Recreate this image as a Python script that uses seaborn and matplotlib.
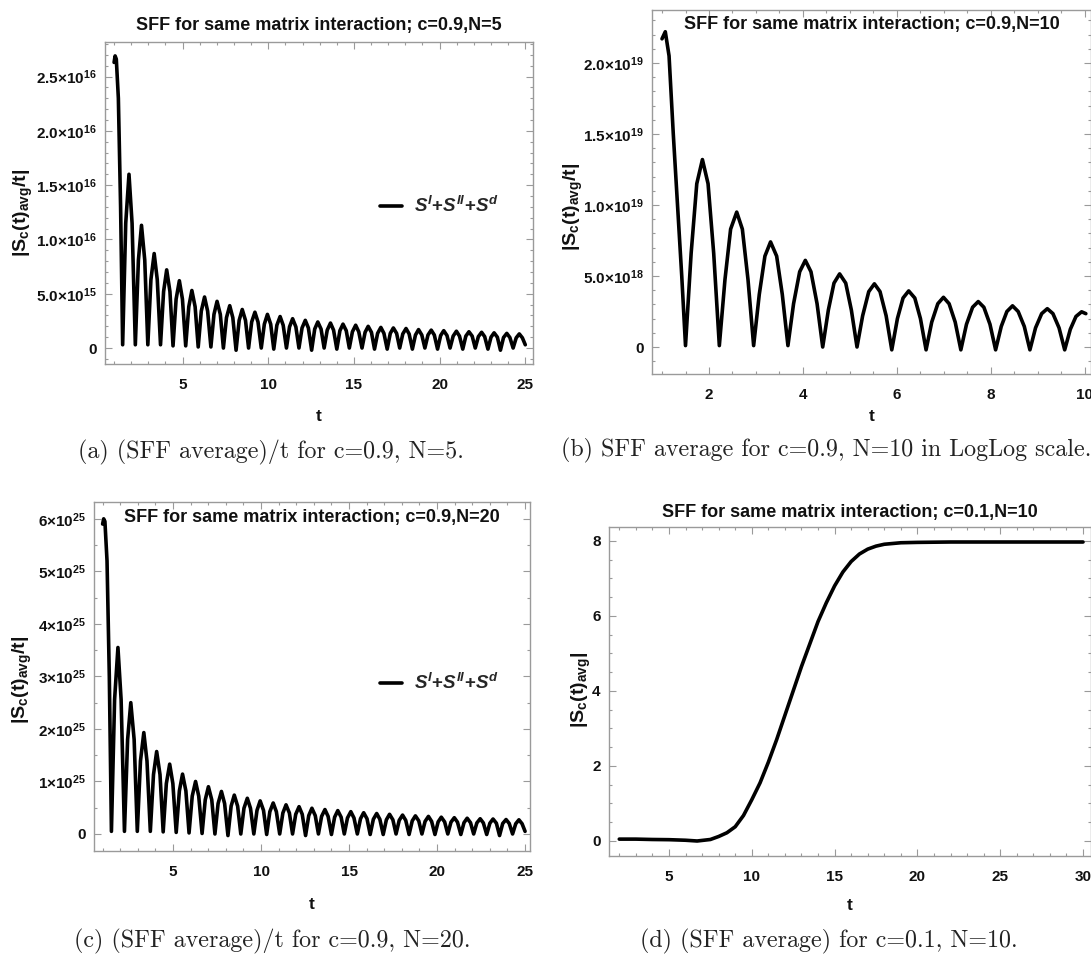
import matplotlib
matplotlib.use("Agg")
import matplotlib.pyplot as plt
from matplotlib import font_manager
from matplotlib.ticker import MultipleLocator, FixedLocator
import seaborn as sns
import pandas as pd

# ---------------- data ----------------
# (a) c=0.9, N=5 : (SFF average)/t, values in units of 1e16
a_t = [1.00, 1.06, 1.13, 1.25, 1.38,
       1.50, 1.68, 1.87, 2.05, 2.24, 2.42, 2.60, 2.79, 2.97, 3.15, 3.34, 3.52,
       3.71, 3.89, 4.07, 4.26, 4.44, 4.62, 4.81, 4.99, 5.18, 5.36, 5.54, 5.73,
       5.91, 6.09, 6.28, 6.46, 6.65, 6.83, 7.01, 7.20, 7.38, 7.56, 7.75, 7.93,
       8.12, 8.30, 8.48, 8.67, 8.85, 9.03, 9.22, 9.40, 9.59, 9.77, 9.95, 10.14,
       10.32, 10.50, 10.69, 10.87, 11.06, 11.24, 11.42, 11.61, 11.79, 11.97, 12.16, 12.34,
       12.53, 12.71, 12.89, 13.08, 13.26, 13.44, 13.63, 13.81, 14.00, 14.18, 14.36, 14.55,
       14.73, 14.91, 15.10, 15.28, 15.47, 15.65, 15.83, 16.02, 16.20, 16.38, 16.57, 16.75,
       16.94, 17.12, 17.30, 17.49, 17.67, 17.85, 18.04, 18.22, 18.41, 18.59, 18.77, 18.96,
       19.14, 19.32, 19.51, 19.69, 19.88, 20.06, 20.24, 20.43, 20.61, 20.79, 20.98, 21.16,
       21.35, 21.53, 21.71, 21.90, 22.08, 22.26, 22.45, 22.63, 22.82, 23.00, 23.18, 23.37,
       23.55, 23.73, 23.92, 24.10, 24.29, 24.47, 24.65, 24.83, 25.00]
a_s = [2.63, 2.69, 2.66, 2.30, 1.30,
       0.03, 1.15, 1.60, 1.15, 0.03, 0.81, 1.13, 0.81, 0.03, 0.63, 0.87, 0.63,
       0.03, 0.52, 0.72, 0.52, 0.02, 0.45, 0.62, 0.45, 0.02, 0.38, 0.53, 0.38,
       0.01, 0.34, 0.47, 0.34, 0.01, 0.31, 0.43, 0.31, 0.00, 0.28, 0.39, 0.28,
       -0.02, 0.255, 0.355, 0.255, 0.00, 0.24, 0.33, 0.24, 0.00, 0.22, 0.31, 0.22,
       -0.01, 0.21, 0.29, 0.21, 0.00, 0.195, 0.27, 0.195, 0.00, 0.185, 0.255, 0.185,
       -0.02, 0.175, 0.24, 0.175, 0.00, 0.165, 0.23, 0.165, -0.01, 0.16, 0.22, 0.16,
       0.00, 0.15, 0.21, 0.15, 0.00, 0.145, 0.20, 0.145, -0.01, 0.135, 0.19, 0.135,
       -0.01, 0.135, 0.185, 0.135, 0.00, 0.13, 0.18, 0.13, -0.01, 0.12, 0.17, 0.12,
       0.00, 0.12, 0.165, 0.12, -0.01, 0.115, 0.16, 0.115, 0.00, 0.11, 0.155, 0.11,
       -0.01, 0.11, 0.15, 0.11, 0.00, 0.105, 0.145, 0.105, -0.01, 0.10, 0.14, 0.10,
       -0.02, 0.097, 0.135, 0.097, 0.00, 0.094, 0.13, 0.094, 0.03]

# (b) c=0.9, N=10, values in units of 1e19
b_t = [1.00, 1.07, 1.15, 1.24, 1.33, 1.42,
       1.50, 1.62, 1.74, 1.86, 1.98, 2.10,
       2.22, 2.34, 2.46, 2.59, 2.71, 2.83,
       2.95, 3.07, 3.19, 3.31, 3.44, 3.56,
       3.68, 3.80, 3.93, 4.05, 4.17, 4.30,
       4.42, 4.54, 4.66, 4.78, 4.91, 5.03,
       5.15, 5.27, 5.40, 5.52, 5.64, 5.77,
       5.89, 6.01, 6.13, 6.25, 6.38, 6.50,
       6.62, 6.74, 6.87, 6.99, 7.11, 7.24,
       7.36, 7.48, 7.61, 7.73, 7.85, 7.98,
       8.10, 8.22, 8.34, 8.46, 8.58, 8.71,
       8.83, 8.95, 9.08, 9.20, 9.32, 9.45,
       9.57, 9.69, 9.81, 9.93, 10.02]
b_s = [2.17, 2.22, 2.05, 1.50, 1.00, 0.50,
       0.01, 0.66, 1.15, 1.32, 1.15, 0.66,
       0.01, 0.475, 0.83, 0.95, 0.83, 0.475,
       0.01, 0.37, 0.64, 0.74, 0.64, 0.37,
       0.01, 0.305, 0.53, 0.61, 0.53, 0.305,
       0.00, 0.26, 0.45, 0.515, 0.45, 0.26,
       0.00, 0.22, 0.39, 0.445, 0.39, 0.22,
       -0.02, 0.20, 0.345, 0.395, 0.345, 0.20,
       -0.02, 0.175, 0.305, 0.35, 0.305, 0.175,
       -0.02, 0.16, 0.28, 0.32, 0.28, 0.16,
       -0.02, 0.145, 0.25, 0.29, 0.25, 0.145,
       -0.02, 0.135, 0.235, 0.27, 0.235, 0.135,
       -0.02, 0.125, 0.215, 0.248, 0.235]

# (c) c=0.9, N=20 : (SFF average)/t, values in units of 1e25 (same t grid as (a))
c_t = a_t
c_s = [5.90, 6.00, 5.95, 5.20, 3.00,
       0.05, 2.56, 3.55, 2.56, 0.05, 1.80, 2.50, 1.80, 0.05, 1.39, 1.93, 1.39,
       0.05, 1.13, 1.57, 1.13, 0.04, 0.96, 1.33, 0.96, 0.03, 0.82, 1.14, 0.82,
       0.02, 0.72, 1.00, 0.72, 0.01, 0.65, 0.90, 0.65, 0.00, 0.58, 0.81, 0.58,
       -0.03, 0.53, 0.74, 0.53, 0.00, 0.49, 0.68, 0.49, 0.00, 0.45, 0.63, 0.45,
       -0.01, 0.425, 0.59, 0.425, 0.00, 0.40, 0.555, 0.40, 0.00, 0.375, 0.52, 0.375,
       -0.03, 0.35, 0.49, 0.35, 0.00, 0.335, 0.465, 0.335, -0.01, 0.32, 0.445, 0.32,
       0.00, 0.305, 0.425, 0.305, 0.00, 0.29, 0.405, 0.29, -0.01, 0.28, 0.39, 0.28,
       -0.01, 0.27, 0.375, 0.27, 0.00, 0.26, 0.36, 0.26, -0.01, 0.25, 0.345, 0.25,
       0.00, 0.24, 0.335, 0.24, -0.01, 0.23, 0.32, 0.23, 0.00, 0.225, 0.31, 0.225,
       -0.01, 0.215, 0.30, 0.215, 0.00, 0.21, 0.29, 0.21, -0.01, 0.205, 0.285, 0.205,
       -0.03, 0.20, 0.275, 0.20, 0.00, 0.195, 0.27, 0.195, 0.05]

# (d) c=0.1, N=10 : SFF average
d_t = [2, 3, 4, 5, 6, 6.7, 7.5, 8, 8.5, 9, 9.5, 10, 10.5, 11, 11.5, 12, 12.5,
       13, 13.5, 14, 14.5, 15, 15.5, 16, 16.5, 17, 17.5, 18, 19, 20, 22, 25, 30]
d_s = [0.05, 0.05, 0.04, 0.035, 0.02, 0.0, 0.04, 0.12, 0.22, 0.38, 0.68, 1.10,
       1.55, 2.10, 2.70, 3.35, 4.00, 4.65, 5.25, 5.85, 6.35, 6.80, 7.17, 7.45,
       7.65, 7.78, 7.86, 7.91, 7.95, 7.96, 7.97, 7.97, 7.97]

# tick labels
a_yticks = [0, 0.5e16, 1.0e16, 1.5e16, 2.0e16, 2.5e16]
a_ylabels = ['0', '5.0×10$^{15}$', '1.0×10$^{16}$', '1.5×10$^{16}$', '2.0×10$^{16}$', '2.5×10$^{16}$']
b_yticks = [0, 0.5e19, 1.0e19, 1.5e19, 2.0e19]
b_ylabels = ['0', '5.0×10$^{18}$', '1.0×10$^{19}$', '1.5×10$^{19}$', '2.0×10$^{19}$']
c_yticks = [0, 1e25, 2e25, 3e25, 4e25, 5e25, 6e25]
c_ylabels = ['0', '1×10$^{25}$', '2×10$^{25}$', '3×10$^{25}$', '4×10$^{25}$', '5×10$^{25}$', '6×10$^{25}$']
d_yticks = [0, 2, 4, 6, 8]
d_ylabels = ['0', '2', '4', '6', '8']
ac_xticks = [5, 10, 15, 20, 25]
b_xticks = [2, 4, 6, 8, 10]
d_xticks = [5, 10, 15, 20, 25, 30]

titles = ['SFF for same matrix interaction; c=0.9,N=5',
          'SFF for same matrix interaction; c=0.9,N=10',
          'SFF for same matrix interaction; c=0.9,N=20',
          'SFF for same matrix interaction; c=0.1,N=10']
captions = ['(a) (SFF average)/t for c=0.9, N=5.',
            '(b) SFF average for c=0.9, N=10 in LogLog scale.',
            '(c) (SFF average)/t for c=0.9, N=20.',
            '(d) (SFF average) for c=0.1, N=10.']
legend_label = r'$S^{I}$+$S^{II}$+$S^{d}$'
ylab_ratio = r'|S$_{\mathrm{c}}$(t)$_{\mathrm{avg}}$/t|'
ylab_plain = r'|S$_{\mathrm{c}}$(t)$_{\mathrm{avg}}$|'

# ---------------- style ----------------
sns.set_style("ticks")
names = {f.name for f in font_manager.fontManager.ttflist}
SANS = 'Liberation Sans Narrow' if 'Liberation Sans Narrow' in names else 'Liberation Sans'
SERIF = 'cmr10' if 'cmr10' in names else 'DejaVu Serif'
plt.rcParams['font.family'] = [SANS, 'DejaVu Sans']
plt.rcParams['font.weight'] = 'bold'
plt.rcParams['mathtext.fontset'] = 'custom'
plt.rcParams['mathtext.rm'] = SANS + ':bold'
plt.rcParams['mathtext.bf'] = SANS + ':bold'
plt.rcParams['mathtext.it'] = SANS + ':bold:italic'
plt.rcParams['axes.unicode_minus'] = False

W, H = 1091, 963
fig = plt.figure(figsize=(W / 100, H / 100), dpi=100)


def px_axes(l, t, r, b):
    return fig.add_axes([l / W, 1 - b / H, (r - l) / W, (b - t) / H])


FRAME = '#9a9a9a'


def style(ax, xmaj, xmin, ymaj, ymin, ylabels, xlim, ylim):
    ax.set_xlim(*xlim)
    ax.set_ylim(*ylim)
    ax.xaxis.set_major_locator(FixedLocator(xmaj))
    ax.xaxis.set_minor_locator(MultipleLocator(xmin))
    ax.yaxis.set_major_locator(FixedLocator(ymaj))
    ax.yaxis.set_minor_locator(MultipleLocator(ymin))
    ax.set_yticklabels(ylabels)
    ax.set_xticklabels([str(v) for v in xmaj])
    for s in ax.spines.values():
        s.set_visible(True)
        s.set_color(FRAME)
        s.set_linewidth(1.0)
    ax.tick_params(which='both', direction='in', top=True, right=True,
                   color=FRAME, width=0.8, labelsize=11, labelcolor='#111111')
    ax.tick_params(axis='x', which='major', pad=10)
    ax.tick_params(axis='y', which='major', pad=6)
    ax.tick_params(which='major', length=5)
    ax.tick_params(which='minor', length=2.5)
    for lab in ax.get_xticklabels() + ax.get_yticklabels():
        lab.set_fontweight('bold')


panels = [
    dict(box=(105, 42, 533, 364), t=a_t, s=a_s, scale=1e16, xmaj=ac_xticks, xmin=1,
         ymaj=a_yticks, ymin=1e15, ylabels=a_ylabels, xlim=(0.47, 25.45), ylim=(-0.147e16, 2.818e16),
         title_y=1.05, ylab=ylab_ratio, ylab_pos=(-0.164, 0.47), xlab_y=-0.14,
         legend=(0.603, 0.49), cap=(271, 452)),
    dict(box=(652, 10, 1091, 374), t=b_t, s=b_s, scale=1e19, xmaj=b_xticks, xmin=0.5,
         ymaj=b_yticks, ymin=1e18, ylabels=b_ylabels, xlim=(0.787, 10.13), ylim=(-0.19e19, 2.373e19),
         title_y=0.959, ylab=ylab_ratio, ylab_pos=(-0.152, 0.46), xlab_y=-0.097,
         legend=None, cap=(826, 450)),
    dict(box=(94, 502, 530, 851), t=c_t, s=c_s, scale=1e25, xmaj=ac_xticks, xmin=1,
         ymaj=c_yticks, ymin=0.5e25, ylabels=c_ylabels, xlim=(0.51, 25.28), ylim=(-0.324e25, 6.32e25),
         title_y=0.957, ylab=ylab_ratio, ylab_pos=(-0.138, 0.49), xlab_y=-0.133,
         legend=(0.617, 0.481), cap=(272, 941)),
    dict(box=(609, 527, 1091, 856), t=d_t, s=d_s, scale=1.0, xmaj=d_xticks, xmin=1,
         ymaj=d_yticks, ymin=0.5, ylabels=d_ylabels, xlim=(1.38, 30.48), ylim=(-0.4, 8.37),
         title_y=1.043, ylab=ylab_plain, ylab_pos=(-0.034, 0.505), xlab_y=-0.127,
         legend=None, cap=(829, 941)),
]

for i, p in enumerate(panels):
    ax = px_axes(*p['box'])
    df = pd.DataFrame({'t': p['t'], 'S': [v * p['scale'] for v in p['s']]})
    sns.lineplot(data=df, x='t', y='S', ax=ax, color='black', linewidth=2.6,
                 estimator=None, sort=False, legend=False)
    style(ax, p['xmaj'], p['xmin'], p['ymaj'], p['ymin'], p['ylabels'], p['xlim'], p['ylim'])
    ax.text(0.5, p['title_y'], titles[i], transform=ax.transAxes, ha='center', va='center',
            fontsize=13, fontweight='bold', color='#111111')
    ax.set_xlabel('t', fontsize=12.5, fontweight='bold', color='#111111')
    ax.xaxis.set_label_coords(0.5, p['xlab_y'])
    ax.set_ylabel(p['ylab'], fontsize=14, fontweight='bold', color='#111111')
    ax.yaxis.set_label_coords(*p['ylab_pos'])
    if p['legend']:
        ax.legend(handles=ax.get_lines(), labels=[legend_label], loc='center left',
                  bbox_to_anchor=p['legend'], frameon=False, fontsize=13.5,
                  handlelength=1.2, handletextpad=0.6)
    fig.text(p['cap'][0] / W, 1 - p['cap'][1] / H, captions[i], ha='center', va='center',
             fontsize=17.3, family=SERIF, fontweight='normal', color='#222222')

fig.savefig('out.png', dpi=100)
